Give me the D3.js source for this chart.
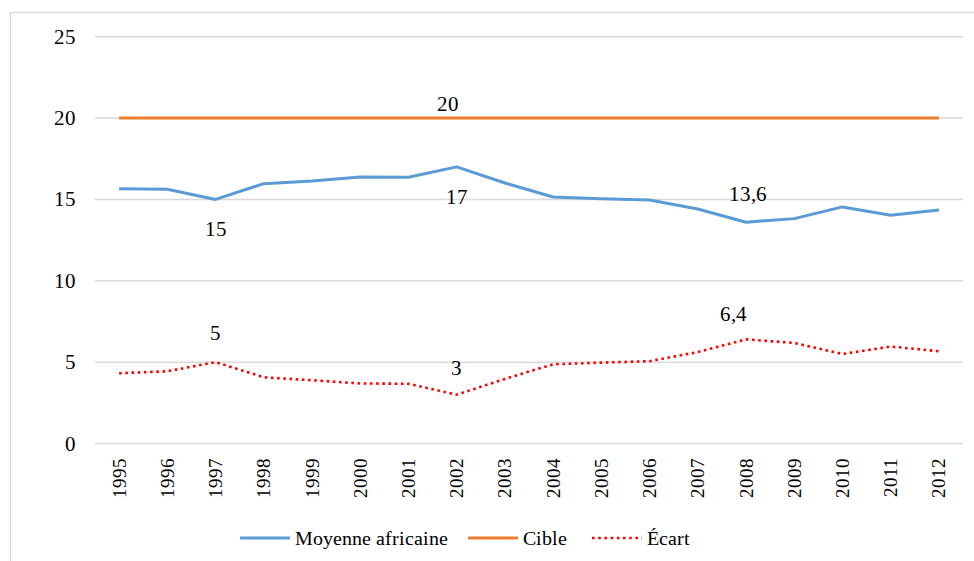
<!DOCTYPE html>
<html>
<head>
<meta charset="utf-8">
<script src="https://cdn.jsdelivr.net/npm/d3@7"></script>
<style>
  @font-face { font-family: "ChartSerif"; src: local("Liberation Serif"), local("LiberationSerif"), local("LiberationSerif-Regular"), local("Tinos"); }
  html, body { margin: 0; padding: 0; background: #fff; }
  .lbl { font-family: "ChartSerif", "Liberation Serif", serif; }
</style>
</head>
<body>
<svg id="chart" width="974" height="561"></svg>
<script>
const years = ["1995","1996","1997","1998","1999","2000","2001","2002","2003","2004","2005","2006","2007","2008","2009","2010","2011","2012"];
const moyenne = [15.66,15.62,15.0,15.97,16.13,16.38,16.36,17.0,16.01,15.15,15.04,14.96,14.41,13.6,13.82,14.54,14.03,14.35];
const cible = [20,20,20,20,20,20,20,20,20,20,20,20,20,20,20,20,20,20];
const ecart = [4.32,4.44,5.0,4.07,3.89,3.69,3.67,3.0,3.97,4.87,4.97,5.06,5.62,6.4,6.18,5.5,5.96,5.67];
const yTicks = [0,5,10,15,20,25];
const seriesNames = ["Moyenne africaine","Cible","Écart"];
// labelled points: [series index, year]
const labelled = [[0,"1997"],[0,"2002"],[0,"2008"],[1,"2002"],[2,"1997"],[2,"2002"],[2,"2008"]];

const svg = d3.select("#chart");
const fmt = v => String(v).replace(".", ",");
const serif = sel => sel.attr("class","lbl").attr("fill","#000");

// outer frame
svg.append("rect").attr("x",10.5).attr("y",12.5).attr("width",1000).attr("height",600)
  .attr("fill","none").attr("stroke","#d9d9d9").attr("stroke-width",1.5);

const x = d3.scalePoint().domain(years).range([95, 963]).padding(0.5);
const y = d3.scaleLinear().domain([0,25]).range([443.5, 36.7]);

// grid lines
svg.append("g").selectAll("line").data(yTicks).join("line")
  .attr("x1",95).attr("x2",963).attr("y1",d=>y(d)).attr("y2",d=>y(d))
  .attr("stroke","#d9d9d9").attr("stroke-width",1.5);
// y labels
svg.append("g").selectAll("text").data(yTicks).join("text")
  .attr("x",76).attr("y",d=>y(d)+7).attr("text-anchor","end")
  .call(serif).style("font-size","20.5px").text(d=>d);

// x labels
svg.append("g").selectAll("text").data(years).join("text")
  .attr("transform",d=>`translate(${x(d)+6.5},${443.5+14}) rotate(-90)`)
  .attr("text-anchor","end")
  .call(serif).style("font-size","19px").text(d=>d);

const colors = ["#5b9bd5","#ed7d31","#ff0000"];
const data = [moyenne, cible, ecart];
const line = d3.line().x((d,i)=>x(years[i])).y(d=>y(d));

svg.append("path").datum(cible).attr("d",line).attr("fill","none")
  .attr("stroke",colors[1]).attr("stroke-width",3);
svg.append("path").datum(moyenne).attr("d",line).attr("fill","none")
  .attr("stroke",colors[0]).attr("stroke-width",3).attr("stroke-linejoin","round");
svg.append("path").datum(ecart).attr("d",line).attr("fill","none")
  .attr("stroke",colors[2]).attr("stroke-width",2.6).attr("stroke-dasharray","2.6 3.6");

// data labels (offsets: style only)
const offsets = {
  "0-1997":[0,30], "0-2002":[0,30], "0-2008":[2,-28],
  "1-2002":[-9,-14],
  "2-1997":[0,-29], "2-2002":[0,-27], "2-2008":[-13,-25]
};
labelled.forEach(([s,yr])=>{
  const i = years.indexOf(yr);
  const v = data[s][i];
  const o = offsets[s+"-"+yr];
  svg.append("text").attr("x", x(yr)+o[0]).attr("y", y(v)+o[1]+7)
    .attr("text-anchor","middle").call(serif).style("font-size","20.5px").text(fmt(v));
});

// legend
const legendItems = [
  {name: seriesNames[0], color: colors[0], x: 240, dash: null, w: 3},
  {name: seriesNames[1], color: colors[1], x: 468, dash: null, w: 3},
  {name: seriesNames[2], color: colors[2], x: 592, dash: "2.6 3.6", w: 2.6}
];
const ly = 538;
legendItems.forEach(it=>{
  svg.append("line").attr("x1",it.x).attr("x2",it.x+50).attr("y1",ly).attr("y2",ly)
    .attr("stroke",it.color).attr("stroke-width",it.w).attr("stroke-dasharray",it.dash);
  svg.append("text").attr("x",it.x+55).attr("y",ly+6.5)
    .call(serif).style("font-size","19.5px").text(it.name);
});
</script>
</body>
</html>
